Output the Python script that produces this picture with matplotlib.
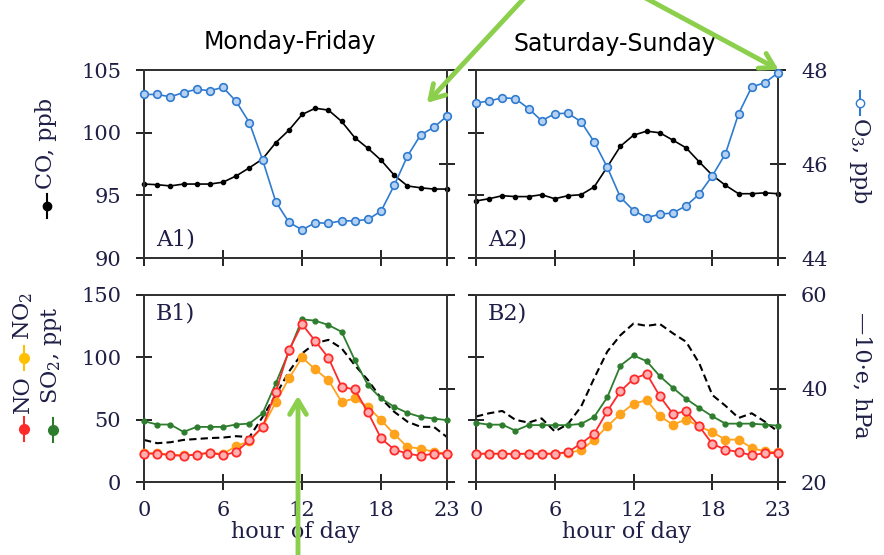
import numpy as np
import matplotlib.pyplot as plt
from matplotlib.lines import Line2D
from matplotlib.patches import FancyArrowPatch

hours = np.arange(24)
xticks = [0, 6, 12, 18, 23]

# top row: CO (left axis) and O3 (right axis)
co_week = [95.9, 95.85, 95.75, 95.9, 95.9, 95.9, 96.05, 96.55, 97.2, 97.9, 99.2, 100.2,
           101.45, 101.95, 101.8, 100.9, 99.6, 98.75, 97.8, 96.6, 95.75, 95.6, 95.5, 95.5]
o3_week = [47.48, 47.48, 47.43, 47.52, 47.59, 47.56, 47.63, 47.33, 46.88, 46.09, 45.2, 44.76,
           44.6, 44.75, 44.74, 44.79, 44.79, 44.82, 45.0, 45.55, 46.17, 46.62, 46.78, 47.02]
co_wkend = [94.55, 94.73, 94.97, 94.9, 94.9, 95.05, 94.73, 94.97, 95.05, 95.67, 97.27, 98.92,
            99.8, 100.12, 99.99, 99.4, 98.79, 97.67, 96.6, 95.8, 95.13, 95.13, 95.2, 95.13]
o3_wkend = [47.3, 47.34, 47.41, 47.39, 47.18, 46.92, 47.07, 47.08, 46.9, 46.47, 45.93, 45.29,
            45.01, 44.86, 44.93, 44.96, 45.11, 45.36, 45.75, 46.22, 47.07, 47.64, 47.73, 47.94]

# bottom row: NO, NO2, SO2 (left axis) and -10*e (right axis)
no_week = [22.8, 22.8, 21.5, 21.0, 22.0, 23.6, 21.5, 24.1, 33.5, 44.2, 72.3, 105.8,
           126.5, 113.1, 99.6, 76.3, 74.2, 55.8, 34.9, 26.0, 22.8, 21.0, 22.8, 22.8]
no2_week = [23.0, 23.0, 22.0, 21.5, 22.0, 23.5, 22.5, 28.9, 32.7, 44.2, 63.8, 83.1,
            99.9, 90.3, 81.7, 64.3, 67.0, 60.3, 49.6, 38.3, 28.1, 26.8, 24.1, 22.8]
so2_week = [48.8, 46.1, 46.1, 40.2, 44.2, 44.2, 44.2, 46.1, 46.9, 55.0, 79.1, 104.5,
            130.5, 129.4, 125.9, 120.5, 97.8, 77.7, 67.0, 60.3, 55.4, 52.2, 50.9, 49.6]
e_week = [29.0, 28.3, 28.5, 29.0, 29.2, 29.4, 29.5, 29.8, 29.6, 33.9, 38.6, 43.6,
          47.5, 49.7, 50.4, 48.6, 45.0, 41.8, 37.9, 35.0, 32.9, 31.8, 31.8, 29.6]

no_wkend = [22.7, 22.7, 22.7, 22.5, 22.7, 22.7, 22.7, 24.0, 30.8, 38.8, 56.7, 72.8,
            82.8, 86.8, 68.8, 54.6, 56.7, 44.7, 30.5, 26.0, 24.0, 21.4, 23.2, 23.2]
no2_wkend = [22.7, 22.7, 22.7, 22.5, 22.7, 22.7, 22.7, 23.5, 25.4, 34.0, 44.7, 54.6,
             62.9, 65.6, 52.7, 46.0, 50.1, 44.7, 39.9, 34.0, 34.0, 27.3, 24.6, 23.8]
so2_wkend = [47.4, 46.0, 46.0, 41.2, 45.6, 45.6, 45.6, 45.6, 46.6, 52.2, 68.0, 93.4,
             101.5, 96.9, 84.9, 75.5, 66.7, 59.5, 52.7, 46.8, 46.8, 46.8, 46.0, 45.2]
e_wkend = [34.0, 34.7, 35.2, 33.3, 32.7, 33.6, 30.8, 32.4, 36.1, 42.2, 47.9, 51.4,
           53.9, 53.4, 53.8, 51.8, 50.0, 45.4, 38.6, 36.3, 33.7, 34.7, 32.9, 30.8]

plt.rcParams['font.family'] = 'DejaVu Serif'
plt.rcParams['mathtext.fontset'] = 'dejavuserif'

W, H = 884, 555
fig = plt.figure(figsize=(W / 100, H / 100), dpi=100)

def fx(x):
    return x / W

def fy(y):
    return 1 - y / H

def box(x0, y0, x1, y1):
    return [fx(x0), fy(y1), fx(x1) - fx(x0), fy(y0) - fy(y1)]

tcol = '#1e1e46'
blue = '#2f7bd0'
red = '#ff2a2a'
orange = '#ffa21c'
green = '#2e7d2e'
arrow_green = '#8ccf4d'

def style(ax):
    for s in ax.spines.values():
        s.set_color('#333333')
        s.set_linewidth(1.4)
    ax.tick_params(direction='inout', length=11, width=1.4, colors='#222222',
                   labelcolor=tcol, labelsize=15, pad=11)

ax_a1 = fig.add_axes(box(144, 70, 447, 258))
ax_a2 = fig.add_axes(box(476, 70, 778, 258))
ax_b1 = fig.add_axes(box(144, 295, 447, 482))
ax_b2 = fig.add_axes(box(476, 295, 778, 482))

panels = [
    (ax_a1, co_week, o3_week, 'A1)', True),
    (ax_a2, co_wkend, o3_wkend, 'A2)', False),
]
for ax, co, o3, tag, left in panels:
    tw = ax.twinx()
    ax.plot(hours, co, color='black', lw=1.2, marker='o', ms=3, clip_on=False, zorder=3)
    tw.plot(hours, o3, color=blue, lw=1.2, marker='o', ms=5.5, mfc='#b5d0f0', mec=blue,
            mew=1.2, clip_on=False, zorder=3)
    ax.set_ylim(90, 105)
    ax.set_yticks([90, 95, 100, 105])
    tw.set_ylim(44, 48)
    tw.set_yticks([44, 46, 48])
    ax.set_xlim(0, 23)
    ax.set_xticks(xticks)
    ax.set_xticklabels([])
    for a in (ax, tw):
        style(a)
        a.tick_params(axis='x', top=False)
    if not left:
        ax.set_yticklabels([])
    else:
        tw.set_yticklabels([])
    ax.text(0.04, 0.04, tag, transform=ax.transAxes, fontsize=16, color=tcol,
            ha='left', va='bottom')

panels = [
    (ax_b1, no_week, no2_week, so2_week, e_week, 'B1)', True),
    (ax_b2, no_wkend, no2_wkend, so2_wkend, e_wkend, 'B2)', False),
]
for ax, no, no2, so2, e, tag, left in panels:
    tw = ax.twinx()
    tw.plot(hours, e, color='black', lw=1.5, ls=(0, (3.5, 2)), zorder=2)
    ax.plot(hours, so2, color=green, lw=1.3, marker='o', ms=3.5, clip_on=False, zorder=3)
    ax.plot(hours, no2, color=orange, lw=1.3, marker='o', ms=6, clip_on=False, zorder=4)
    ax.plot(hours, no, color=red, lw=1.3, marker='o', ms=6, mfc='#ffb0b0', mec=red,
            mew=1.3, clip_on=False, zorder=5)
    ax.set_zorder(tw.get_zorder() + 1)
    ax.patch.set_visible(False)
    ax.set_ylim(0, 150)
    ax.set_yticks([0, 50, 100, 150])
    tw.set_ylim(20, 60)
    tw.set_yticks([20, 40, 60])
    ax.set_xlim(0, 23)
    ax.set_xticks(xticks)
    ax.set_xticklabels([str(t) for t in xticks])
    ax.set_xlabel('hour of day', fontsize=16, color=tcol, labelpad=1)
    for a in (ax, tw):
        style(a)
        a.tick_params(axis='x', top=False)
    ax.tick_params(axis='x', pad=8)
    if not left:
        ax.set_yticklabels([])
    else:
        tw.set_yticklabels([])
    ax.text(0.04, 0.96, tag, transform=ax.transAxes, fontsize=16, color=tcol,
            ha='left', va='top')

# titles
fig.text(fx(290), fy(42), 'Monday-Friday', family='DejaVu Sans', fontsize=17,
         ha='center', va='center', color='black')
fig.text(fx(615), fy(44), 'Saturday-Sunday', family='DejaVu Sans', fontsize=17,
         ha='center', va='center', color='black')

# axis labels with legend symbols
def symbol(x, y, color, mfc=None, ms=6):
    fig.add_artist(Line2D([fx(x), fx(x), fx(x)], [fy(y + 12), fy(y), fy(y - 12)],
                          transform=fig.transFigure, color=color, lw=1.5,
                          marker='o', markevery=[1], ms=ms,
                          mfc=mfc if mfc else color, mec=color))

def vlabel(x, y, s, rot=90):
    fig.text(fx(x), fy(y), s, rotation=rot, ha='center', va='center',
             fontsize=16, color=tcol)

symbol(47, 206, 'black', ms=6)
vlabel(46, 143, 'CO, ppb')

symbol(24, 429, red, ms=7)
vlabel(23, 394, 'NO')
symbol(24, 358, '#ffc000', ms=7)
vlabel(23, 316, r'NO$_2$')
symbol(53, 430, green, ms=7)
vlabel(52, 355, r'SO$_2$, ppt')

symbol(860, 103, blue, mfc='white', ms=6)
vlabel(860, 160, r'O$_3$, ppb', rot=270)
vlabel(862, 375, '—10·e, hPa', rot=270)

# green annotation arrows
def arrow(x0, y0, x1, y1):
    fig.add_artist(FancyArrowPatch((fx(x0), fy(y0)), (fx(x1), fy(y1)),
                                   transform=fig.transFigure, arrowstyle='->,head_length=10,head_width=6',
                                   color=arrow_green, lw=3.5, mutation_scale=1, zorder=10))

arrow(527, -5, 425, 105)
arrow(640, -5, 781, 71)
arrow(298, 560, 298, 393)

fig.savefig('out.png', dpi=100)
